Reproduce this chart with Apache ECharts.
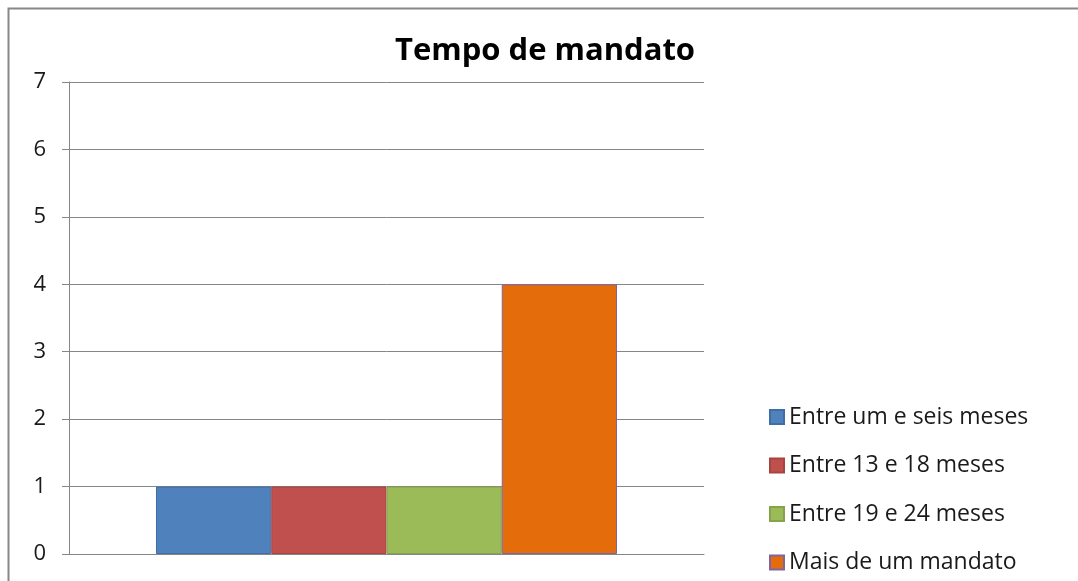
<!DOCTYPE html>
<html>
<head>
<meta charset="utf-8">
<script src="https://cdn.jsdelivr.net/npm/echarts@6/dist/echarts.min.js"></script>
<style>html,body{margin:0;padding:0;background:#fff;}#c{width:1078px;height:581px;}</style>
</head>
<body>
<div id="c"></div>
<script>
const title = 'Tempo de mandato';
const categories = [''];
const seriesNames = ['Entre um e seis meses', 'Entre 13 e 18 meses', 'Entre 19 e 24 meses', 'Mais de um mandato'];
const entreUmESeis = [1];
const entre13e18 = [1];
const entre19e24 = [1];
const maisDeUm = [4];
const yTicks = [0, 1, 2, 3, 4, 5, 6, 7];

const colors = ['#4F81BD', '#C0504D', '#9BBB59', '#E46C0A'];
const borders = ['#3F6EA6', '#A84340', '#86A34A', '#8064A2'];
const values = [entreUmESeis, entre13e18, entre19e24, maisDeUm];

const chart = echarts.init(document.getElementById('c'), null, {renderer: 'canvas'});
const font = '"Open Sans", "Noto Sans", sans-serif';
chart.setOption({
  animation: false,
  backgroundColor: '#fff',
  graphic: [{
    type: 'rect', left: 6, top: 6, silent: true,
    shape: {width: 1200, height: 700},
    style: {fill: 'none', stroke: '#888', lineWidth: 2}
  }],
  title: {
    text: title, left: 545, top: 36, textAlign: 'center', padding: 0,
    textStyle: {fontFamily: font, fontWeight: 'bold', fontSize: 31, color: '#000'}
  },
  legend: {
    orient: 'vertical', left: 769, top: 405, padding: 0,
    itemWidth: 14, itemHeight: 14, itemGap: 24.5,
    icon: 'rect',
    textStyle: {fontFamily: font, fontSize: 23, color: '#1a1a1a', lineHeight: 24},
    data: seriesNames
  },
  grid: {left: 69, right: 374, top: 82, bottom: 27, containLabel: false},
  xAxis: {
    type: 'category', data: categories,
    axisLine: {show: true, lineStyle: {color: '#868686', width: 1}},
    axisTick: {show: false}, axisLabel: {show: false}
  },
  yAxis: {
    type: 'value', min: 0, max: 7, interval: 1,
    axisLine: {show: true, lineStyle: {color: '#868686', width: 1}},
    axisTick: {show: true, length: 7, lineStyle: {color: '#868686'}},
    splitLine: {show: true, lineStyle: {color: '#868686', width: 1}},
    axisLabel: {
      margin: 23, fontFamily: font, fontSize: 22, color: '#1a1a1a',
      formatter: v => yTicks.includes(v) ? String(v) : ''
    }
  },
  series: seriesNames.map((n, i) => ({
    name: n, type: 'bar', data: values[i],
    barGap: '0%', barCategoryGap: '27.4%',
    itemStyle: {color: colors[i], borderColor: borders[i], borderWidth: 1}
  }))
});
</script>
</body>
</html>
